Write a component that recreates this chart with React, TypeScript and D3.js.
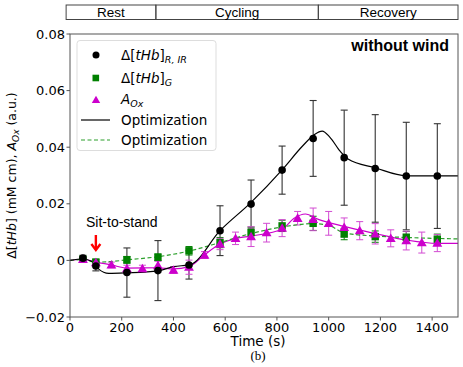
import React from "react";
import * as d3 from "d3";

// sample times and values
const tFull = [50, 100, 220, 340, 460, 580, 700, 820, 940, 1060, 1180, 1300, 1420];
const tHbRIR = [0.0008, -0.002, -0.0043, -0.0036, -0.0016, 0.0105, 0.0199, 0.0319, 0.0431, 0.0363, 0.0325, 0.0298, 0.0298];
const tHbRIRErr = [0.001, 0.0017, 0.0087, 0.0106, 0.005, 0.0088, 0.0085, 0.0085, 0.0134, 0.0168, 0.019, 0.019, 0.0185];
const tHbG = [0.0004, -0.0006, 0.0002, 0.0011, 0.0034, 0.0063, 0.0098, 0.0122, 0.0131, 0.0093, 0.0084, 0.0082, 0.0075];
const tHbGErr = [0.0008, 0.001, 0.0012, 0.0012, 0.0015, 0.0018, 0.002, 0.002, 0.0025, 0.002, 0.002, 0.002, 0.0018];

const tOx = [50, 100, 160, 220, 280, 340, 400, 460, 520, 580, 640, 700, 760, 820, 880, 940, 1000, 1060, 1120, 1180, 1240, 1300, 1360, 1420];
const aOx = [0.0004, -0.0008, -0.0016, -0.0029, -0.0029, -0.0018, -0.0034, -0.0024, 0.0019, 0.0058, 0.0078, 0.0084, 0.0098, 0.0114, 0.0149, 0.0145, 0.0131, 0.0117, 0.0105, 0.0094, 0.0078, 0.007, 0.0063, 0.0061];
const aOxErr = [0.0008, 0.001, 0.001, 0.0012, 0.0012, 0.0015, 0.0012, 0.0025, 0.0012, 0.002, 0.0022, 0.0035, 0.0033, 0.003, 0.0024, 0.004, 0.0042, 0.0033, 0.0032, 0.0036, 0.003, 0.0033, 0.0037, 0.003];

// optimisation curves (knots)
const optBlack: [number, number][] = [[0, 0], [50, 0.0005], [85, -0.0004], [110, -0.003], [150, -0.0046], [220, -0.0044], [340, -0.0037], [400, -0.0022], [465, -0.0015], [580, 0.0105], [700, 0.0205], [820, 0.032], [900, 0.0405], [945, 0.0445], [975, 0.0457], [1005, 0.0435], [1045, 0.0385], [1075, 0.0358], [1180, 0.0327], [1300, 0.0299], [1500, 0.0299]];
const optGreen: [number, number][] = [[0, 0], [50, 0.0003], [100, -0.0006], [160, -0.0004], [220, 0.0002], [340, 0.0013], [460, 0.0033], [580, 0.0063], [700, 0.0095], [820, 0.0118], [940, 0.013], [1000, 0.0124], [1060, 0.0097], [1180, 0.0086], [1300, 0.0081], [1500, 0.0076]];
const optMag: [number, number][] = [[0, 0], [50, 0.0004], [100, -0.0006], [160, -0.0016], [220, -0.0027], [340, -0.0026], [400, -0.003], [460, -0.0022], [520, 0.002], [580, 0.0058], [640, 0.0077], [700, 0.0086], [820, 0.011], [865, 0.0148], [910, 0.0164], [960, 0.0145], [1060, 0.012], [1180, 0.0095], [1300, 0.0072], [1420, 0.006], [1500, 0.006]];

const phases = ["Rest", "Cycling", "Recovery"];
const phaseEdges = [-15, 332, 960, 1500];

const xTicks = [0, 200, 400, 600, 800, 1000, 1200, 1400];
const yTicks = [-0.02, 0, 0.02, 0.04, 0.06, 0.08];

const W = 463, H = 367;
const left = 70, right = 458, top = 34, bottom = 317;
const BLACK = "#000", GREEN = "#008000", MAG = "#cc00cc";
const font = "DejaVu Sans, sans-serif";
const arial = "Liberation Sans, Arial, sans-serif";

const x = d3.scaleLinear().domain([0, 1500]).range([left, right]);
const y = d3.scaleLinear().domain([-0.02, 0.08]).range([bottom, top]);
const line = d3.line<[number, number]>().x((d) => x(d[0])).y((d) => y(d[1])).curve(d3.curveMonotoneX);
const tri = d3.symbol(d3.symbolTriangle, 42)();

function ErrBars({ ts, vs, es, color, width }: { ts: number[]; vs: number[]; es: number[]; color: string; width: number }) {
  return (
    <g stroke={color} strokeWidth={width} clipPath="url(#plot)">
      {ts.map((t, i) => {
        const cx = x(t), y0 = y(vs[i] - es[i]), y1 = y(vs[i] + es[i]);
        return (
          <g key={i}>
            <line x1={cx} x2={cx} y1={y0} y2={y1} />
            <line x1={cx - 3.5} x2={cx + 3.5} y1={y0} y2={y0} />
            <line x1={cx - 3.5} x2={cx + 3.5} y1={y1} y2={y1} />
          </g>
        );
      })}
    </g>
  );
}

const fmtY = (v: number) => (v === 0 ? "0" : d3.format(".2f")(v).replace("-", "\u2212"));

export default function App() {
  const legRows = [55, 78, 100, 120, 140];
  return (
    <svg width={W} height={H} style={{ position: "absolute", left: 0, top: 0, background: "#fff" }} fontFamily={font}>
      <defs>
        <clipPath id="plot">
          <rect x={left} y={top} width={right - left} height={bottom - top} />
        </clipPath>
      </defs>

      {/* phase boxes */}
      <g>
        {phases.map((p, i) => {
          const x0 = x(phaseEdges[i]), x1 = x(phaseEdges[i + 1]);
          return (
            <g key={p}>
              <rect x={x0} y={5} width={x1 - x0} height={14.5} fill="none" stroke="#444" strokeWidth={1} />
              <text x={(x0 + x1) / 2} y={17} textAnchor="middle" fontSize={13.5} fontFamily={arial}>{p}</text>
            </g>
          );
        })}
      </g>

      {/* error bars */}
      <ErrBars ts={tFull} vs={tHbRIR} es={tHbRIRErr} color="#333" width={1.1} />
      <ErrBars ts={tFull} vs={tHbG} es={tHbGErr} color={GREEN} width={1} />
      <ErrBars ts={tOx} vs={aOx} es={aOxErr} color="#d24bd2" width={1} />

      {/* optimisation lines */}
      <g clipPath="url(#plot)" fill="none">
        <path d={line(optMag) || ""} stroke={MAG} strokeWidth={1.2} />
        <path d={line(optGreen) || ""} stroke="#2ca02c" strokeWidth={1.2} strokeDasharray="4,2.5" />
        <path d={line(optBlack) || ""} stroke={BLACK} strokeWidth={1.2} />
      </g>

      {/* markers */}
      <g>
        {tFull.map((t, i) => (
          <rect key={"g" + i} x={x(t) - 3.7} y={y(tHbG[i]) - 3.7} width={7.4} height={7.4} fill={GREEN} />
        ))}
        {tOx.map((t, i) => (
          <path key={"m" + i} d={tri || ""} transform={`translate(${x(t)},${y(aOx[i]) + 0.8})`} fill={MAG} />
        ))}
        {tFull.map((t, i) => (
          <circle key={"b" + i} cx={x(t)} cy={y(tHbRIR[i])} r={3.8} fill={BLACK} />
        ))}
      </g>

      {/* axes frame */}
      <rect x={left} y={top} width={right - left} height={bottom - top} fill="none" stroke="#555" strokeWidth={1} />

      {xTicks.map((t) => (
        <g key={t}>
          <line x1={x(t)} x2={x(t)} y1={bottom} y2={bottom + 3.5} stroke="#555" />
          <text x={x(t)} y={331.5} textAnchor="middle" fontSize={13}>{t}</text>
        </g>
      ))}
      {yTicks.map((v) => (
        <g key={v}>
          <line x1={left - 3.5} x2={left} y1={y(v)} y2={y(v)} stroke="#555" />
          <text x={left - 5} y={y(v) + 4.6} textAnchor="end" fontSize={13}>{fmtY(v)}</text>
        </g>
      ))}

      <text x={(left + right) / 2 - 6} y={346} textAnchor="middle" fontSize={13.5}>Time (s)</text>
      <text x={(left + right) / 2 - 6} y={360} textAnchor="middle" fontSize={13} fontFamily="Liberation Serif, serif">(b)</text>

      <text transform={`translate(16,${(top + bottom) / 2}) rotate(-90)`} textAnchor="middle" fontSize={12.5}>
        <tspan>Δ[</tspan>
        <tspan fontStyle="italic">tHb</tspan>
        <tspan>] (mM cm), </tspan>
        <tspan fontStyle="italic">A</tspan>
        <tspan fontStyle="italic" fontSize={9} dy={2.5}>Ox</tspan>
        <tspan dy={-2.5}> (a.u.)</tspan>
      </text>

      <text x={449} y={51} textAnchor="end" fontSize={16} fontWeight="bold" fontFamily={arial}>without wind</text>

      {/* sit-to-stand annotation */}
      <text x={86} y={227} fontSize={14} fontFamily={arial}>Sit-to-stand</text>
      <g stroke="red" strokeWidth={2.4} fill="none">
        <line x1={x(100)} x2={x(100)} y1={235} y2={250} />
        <polyline points={`${x(100) - 4.5},${244} ${x(100)},${250} ${x(100) + 4.5},${244}`} />
      </g>

      {/* legend */}
      <g>
        <rect x={77} y={40.5} width={139} height={110} rx={3} fill="#fff" fillOpacity={0.85} stroke="#ddd" />
        <circle cx={96} cy={legRows[0]} r={3.5} fill={BLACK} />
        <rect x={92.5} y={legRows[1] - 3.3} width={6.6} height={6.6} fill={GREEN} />
        <path d={tri || ""} transform={`translate(96,${legRows[2] + 0.5}) scale(0.85)`} fill={MAG} />
        <line x1={81} x2={110} y1={legRows[3]} y2={legRows[3]} stroke={BLACK} strokeWidth={1.2} />
        <line x1={81} x2={110} y1={legRows[4]} y2={legRows[4]} stroke="#2ca02c" strokeWidth={1.2} strokeDasharray="4,2.5" />
        <text x={121} y={legRows[0] + 5} fontSize={13.5}>
          <tspan>Δ[</tspan><tspan fontStyle="italic">tHb</tspan><tspan>]</tspan>
          <tspan fontStyle="italic" fontSize={9.5} dy={3}>R, IR</tspan>
        </text>
        <text x={121} y={legRows[1] + 5} fontSize={13.5}>
          <tspan>Δ[</tspan><tspan fontStyle="italic">tHb</tspan><tspan>]</tspan>
          <tspan fontStyle="italic" fontSize={9.5} dy={3}>G</tspan>
        </text>
        <text x={121} y={legRows[2] + 4} fontSize={13.5}>
          <tspan fontStyle="italic">A</tspan>
          <tspan fontStyle="italic" fontSize={9.5} dy={3}>Ox</tspan>
        </text>
        <text x={121} y={legRows[3] + 4.5} fontSize={13.5}>Optimization</text>
        <text x={121} y={legRows[4] + 4.5} fontSize={13.5}>Optimization</text>
      </g>
    </svg>
  );
}
